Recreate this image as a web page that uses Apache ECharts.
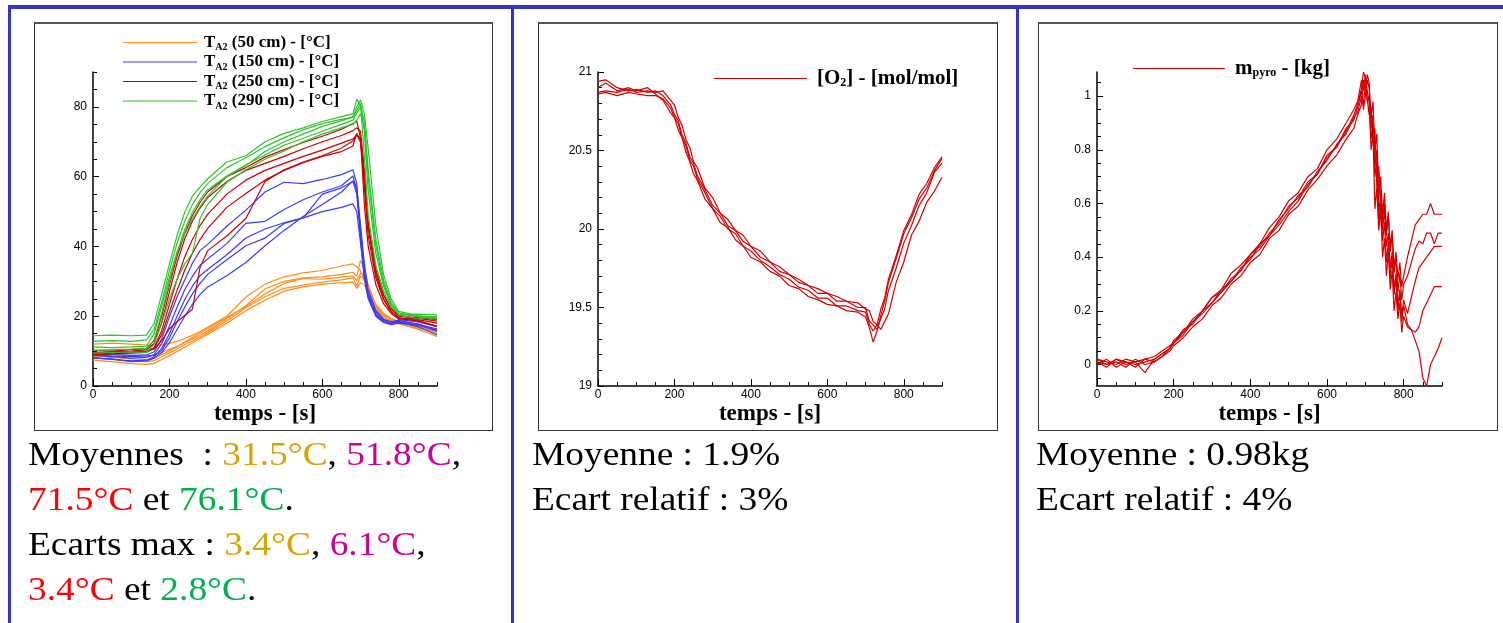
<!DOCTYPE html>
<html>
<head>
<meta charset="utf-8">
<script src="https://cdn.jsdelivr.net/npm/echarts@6/dist/echarts.min.js"></script>
<style>
  html, body { margin:0; padding:0; background:#fff; }
  body { width:1503px; height:623px; position:relative; overflow:hidden; }
  .blue { position:absolute; background:#3333cc; }
  .frame { position:absolute; background:#fff; border:1px solid #333; border-top:2px solid #555; box-sizing:border-box; }
  #chart { position:absolute; left:0; top:0; width:1503px; height:623px; z-index:2; }
  .txt { position:absolute; top:431px; font-family:"Liberation Serif","Times New Roman",serif; font-size:34px; line-height:45px;
         white-space:nowrap; transform:scaleX(1.1); transform-origin:left top; color:#000; z-index:3; }
  .gold { color:#dca400; } .mag { color:#cc0099; } .red { color:#ff0000; } .grn { color:#00b050; }
</style>
</head>
<body>
<div class="blue" style="left:8px;top:5px;width:1495px;height:4px"></div>
<div class="blue" style="left:8px;top:5px;width:3px;height:618px"></div>
<div class="blue" style="left:511px;top:5px;width:3px;height:618px"></div>
<div class="blue" style="left:1016px;top:5px;width:3px;height:618px"></div>
<div class="frame" style="left:34px;top:22px;width:459px;height:409px"></div>
<div class="frame" style="left:538px;top:22px;width:460px;height:409px"></div>
<div class="frame" style="left:1038px;top:22px;width:460px;height:409px"></div>
<div id="chart"></div>
<div class="txt" style="left:28px">Moyennes&nbsp; : <span class="gold">31.5°C</span>, <span class="mag">51.8°C</span>,<br><span class="red">71.5°C</span> et <span class="grn">76.1°C</span>.<br>Ecarts max : <span class="gold">3.4°C</span>, <span class="mag">6.1°C</span>,<br><span class="red">3.4°C</span> et <span class="grn">2.8°C</span>.</div>
<div class="txt" style="left:532px">Moyenne : 1.9%<br>Ecart relatif : 3%</div>
<div class="txt" style="left:1036px">Moyenne : 0.98kg<br>Ecart relatif : 4%</div>
<script>
// ---------- tick arrays ----------
const xMinorTicks = [0,50,100,150,200,250,300,350,400,450,500,550,600,650,700,750,800,850,900];
const xLabels = [0,200,400,600,800];
const y1Minor = [0,5,10,15,20,25,30,35,40,45,50,55,60,65,70,75,80,85,90];
const y1Labels = [0,20,40,60,80];
const y2Minor = [19,19.1,19.2,19.3,19.4,19.5,19.6,19.7,19.8,19.9,20,20.1,20.2,20.3,20.4,20.5,20.6,20.7,20.8,20.9,21];
const y2Labels = [19,19.5,20,20.5,21];
const y3Minor = [-0.05,0,0.05,0.1,0.15,0.2,0.25,0.3,0.35,0.4,0.45,0.5,0.55,0.6,0.65,0.7,0.75,0.8,0.85,0.9,0.95,1,1.05];
const y3Labels = [0,0.2,0.4,0.6,0.8,1];

// ---------- chart 1 : temperatures ----------
const t1 = [0,50,100,140,160,180,200,220,240,260,280,300,350,400,450,500,550,600,650,680,690,700,710,720,740,760,780,800,850,900];
const legendNames1 = ['TA2 (50 cm) - [°C]','TA2 (150 cm) - [°C]','TA2 (250 cm) - [°C]','TA2 (290 cm) - [°C]'];
const t50_1 = [12.0,12.3,12.0,11.7,11.6,11.8,12.2,12.8,13.6,14.5,15.6,16.8,20.0,25.5,29.2,31.3,32.4,33.1,34.4,35.0,34.2,33.0,30.6,27.2,22.6,20.4,19.2,18.4,17.0,16.2];
const t50_2 = [9.2,9.0,8.8,8.6,8.8,9.6,10.5,11.4,12.4,13.5,14.6,15.8,19.2,23.0,27.8,30.0,31.0,31.3,32.0,32.6,31.4,36.0,33.8,29.0,23.4,20.8,19.4,18.5,17.2,15.0];
const t50_3 = [8.0,7.6,7.2,7.0,7.3,8.4,9.5,10.6,11.8,12.9,14.1,15.3,18.6,22.4,25.6,28.0,28.9,29.8,30.4,31.0,28.6,31.6,30.2,27.4,22.2,20.0,18.8,17.9,16.3,14.2];
const t50_4 = [7.4,7.0,6.4,6.2,6.5,7.6,8.7,9.9,11.1,12.3,13.6,14.8,18.0,21.6,24.6,27.2,28.4,29.2,29.6,29.8,28.0,29.6,29.0,26.4,21.8,19.8,18.6,17.8,16.6,15.4];
const t50_5 = [8.6,8.2,7.8,7.6,7.9,9.0,10.1,11.2,12.6,13.9,15.2,16.4,19.6,22.8,26.4,29.4,30.8,30.6,31.2,31.6,30.2,32.4,31.4,28.2,23.0,20.6,19.2,18.2,16.8,15.6];
const t150_1 = [9.4,9.0,8.8,8.9,9.8,13.6,19.8,25.6,30.4,35.2,38.8,40.6,45.8,50.4,55.6,58.4,58.0,59.2,60.6,62.0,58.0,42.0,31.0,25.8,20.6,18.8,18.0,18.6,17.8,16.0];
const t150_2 = [8.8,8.4,8.0,8.2,9.0,12.2,17.2,22.6,27.6,31.4,34.6,36.4,40.8,46.6,47.2,50.6,53.4,55.6,57.4,60.2,56.0,45.0,33.0,26.4,21.2,19.0,18.2,19.0,18.4,17.0];
const t150_3 = [8.2,7.6,7.2,7.4,8.4,10.8,15.0,20.0,24.8,28.6,31.6,33.4,37.6,42.4,45.0,46.8,48.2,55.0,56.8,58.6,55.0,43.0,32.0,25.6,20.4,18.4,17.8,18.4,17.0,14.6];
const t150_4 = [9.0,8.6,8.4,8.6,8.8,10.2,13.8,18.4,22.6,26.4,29.4,32.0,36.2,40.2,42.4,46.6,48.2,50.0,51.2,52.2,50.0,41.0,31.0,25.0,20.0,18.2,17.6,18.0,17.4,15.8];
const t150_5 = [8.0,7.8,7.0,7.2,8.0,9.6,12.4,16.2,20.0,23.4,26.2,28.4,31.6,35.4,40.2,44.6,48.6,52.0,55.6,58.8,57.0,46.0,35.0,27.6,21.6,19.2,18.4,18.8,17.6,16.4];
const t250_1 = [10.2,10.0,10.4,10.8,13.0,20.2,29.0,37.2,43.8,48.8,52.6,55.6,60.0,62.6,65.6,67.8,69.8,71.6,73.6,75.2,76.0,71.0,52.0,40.0,29.0,23.6,20.8,19.2,19.4,18.6];
const t250_2 = [9.6,9.8,10.0,10.4,12.2,18.4,27.0,35.4,42.2,47.2,51.0,54.0,58.6,61.8,63.8,65.8,68.0,70.0,71.8,73.2,74.0,73.0,62.0,46.0,32.0,25.0,21.4,19.4,18.6,17.2];
const t250_3 = [9.2,9.4,9.6,9.8,11.0,16.0,23.4,30.6,37.0,42.0,46.0,49.2,55.0,59.0,61.8,63.8,65.8,67.6,69.6,70.8,72.0,70.4,57.0,43.0,31.0,24.8,21.2,19.6,18.8,17.0];
const t250_4 = [9.0,9.2,9.4,9.6,10.8,14.8,21.2,27.4,33.2,38.0,42.0,45.2,51.2,55.2,59.0,61.8,64.0,65.8,67.2,68.8,72.4,69.8,60.0,46.6,33.4,26.0,22.0,20.0,19.6,19.0];
const t250_5 = [9.4,9.6,9.8,10.0,10.6,13.0,16.4,18.4,20.2,22.0,34.0,38.8,43.0,48.0,58.6,62.0,64.2,66.0,68.2,70.2,72.0,71.0,59.0,45.6,33.0,26.2,22.2,20.2,19.0,18.0];
const t290_1 = [14.4,14.6,14.4,14.6,18.0,26.4,35.0,43.2,49.8,54.4,57.0,59.4,64.2,66.0,70.0,72.4,74.0,75.8,77.2,78.0,82.2,80.4,66.0,49.0,34.6,27.2,22.6,20.4,20.6,20.4];
const t290_2 = [12.8,13.0,12.8,13.2,16.2,24.2,33.0,41.0,47.2,52.0,55.4,58.0,62.6,65.4,68.6,71.2,73.4,75.2,76.4,77.0,79.0,81.0,73.0,56.0,38.0,28.6,23.2,20.6,20.0,19.6];
const t290_3 = [10.2,10.4,10.6,10.8,13.2,21.0,30.0,38.2,44.8,49.8,53.4,56.2,60.2,63.4,66.2,69.0,71.0,73.0,75.0,76.2,78.2,80.0,76.0,62.0,42.0,30.4,24.0,21.0,19.8,19.2];
const t290_4 = [9.4,9.6,9.8,9.6,12.0,18.0,25.0,30.6,35.0,38.0,48.0,52.0,58.4,62.0,65.0,67.4,70.0,72.2,74.0,75.0,76.2,78.0,74.0,60.0,40.4,29.4,23.4,20.4,19.2,20.0];
const t290_5 = [11.2,11.0,11.2,11.4,15.0,23.0,31.2,38.4,43.6,47.8,51.4,54.4,60.0,63.2,67.2,70.0,72.2,74.4,76.0,77.2,80.0,82.0,78.0,68.0,46.0,32.0,25.0,21.4,20.2,19.6];

// ---------- chart 2 : oxygen ----------
const t2 = [0,20,50,80,100,130,150,170,190,200,210,220,230,240,250,260,280,300,320,340,360,380,400,425,450,475,500,525,550,575,600,625,650,680,700,710,720,730,740,750,760,780,800,820,840,860,880,900];
const legendName2 = '[O2] - [mol/mol]';
const o2_1 = [20.90,20.93,20.88,20.90,20.88,20.90,20.86,20.82,20.74,20.71,20.63,20.58,20.49,20.43,20.35,20.31,20.19,20.13,20.04,20.01,19.93,19.89,19.82,19.79,19.73,19.70,19.64,19.62,19.57,19.55,19.52,19.51,19.48,19.47,19.44,19.37,19.28,19.35,19.45,19.54,19.66,19.81,19.97,20.07,20.19,20.26,20.37,20.45];
const o2_2 = [20.94,20.95,20.90,20.88,20.89,20.87,20.88,20.85,20.79,20.73,20.69,20.60,20.55,20.46,20.42,20.34,20.25,20.15,20.10,20.02,19.99,19.92,19.89,19.82,19.79,19.73,19.71,19.66,19.64,19.59,19.59,19.54,19.54,19.50,19.50,19.41,19.39,19.36,19.43,19.49,19.61,19.75,19.91,20.02,20.15,20.23,20.36,20.42];
const o2_3 = [20.87,20.88,20.87,20.89,20.87,20.88,20.87,20.88,20.82,20.79,20.71,20.66,20.57,20.52,20.43,20.39,20.26,20.20,20.10,20.06,19.99,19.96,19.89,19.86,19.79,19.76,19.71,19.68,19.64,19.62,19.59,19.57,19.54,19.53,19.49,19.48,19.41,19.39,19.36,19.41,19.46,19.66,19.79,19.96,20.05,20.17,20.24,20.33];
const o2_4 = [20.86,20.87,20.85,20.87,20.86,20.85,20.85,20.83,20.77,20.71,20.67,20.58,20.53,20.44,20.40,20.32,20.23,20.13,20.08,20.00,19.97,19.89,19.86,19.80,19.76,19.71,19.68,19.63,19.61,19.56,19.56,19.51,19.51,19.48,19.47,19.39,19.35,19.39,19.49,19.56,19.68,19.83,19.99,20.09,20.22,20.29,20.39,20.46];

// ---------- chart 3 : pyrolysed mass ----------
const t3 = [0,25,50,75,100,125,150,170,190,200,225,250,275,300,325,350,375,400,425,450,475,500,525,550,575,600,625,650,670,680,690,695,700,705,710,715,720,725,730,735,740,745,750,755,760,765,770,775,780,785,790,795,800,810,820,830,840,850,860,870,880,890,900];
const legendName3 = 'mpyro - [kg]';
const m_1 = [0.01,-0.01,0.02,0.00,0.01,0.02,0.03,0.05,0.07,0.08,0.13,0.15,0.20,0.23,0.28,0.31,0.36,0.39,0.45,0.48,0.54,0.58,0.63,0.66,0.72,0.76,0.82,0.86,0.92,0.94,1.00,0.97,1.04,0.99,0.93,0.96,0.84,0.88,0.66,0.74,0.62,0.54,0.60,0.48,0.55,0.44,0.50,0.36,0.42,0.32,0.38,0.29,0.33,0.40,0.46,0.52,0.54,0.56,0.56,0.60,0.56,0.56,0.56];
const m_2 = [0.02,0.00,0.01,-0.01,0.02,0.00,0.01,0.03,0.05,0.07,0.10,0.14,0.17,0.22,0.25,0.30,0.33,0.38,0.41,0.47,0.50,0.56,0.59,0.65,0.69,0.74,0.78,0.84,0.88,0.93,0.97,1.06,1.02,1.08,1.05,0.92,0.98,0.80,0.86,0.62,0.70,0.56,0.64,0.50,0.57,0.42,0.48,0.34,0.40,0.27,0.34,0.24,0.30,0.33,0.38,0.43,0.46,0.45,0.49,0.49,0.45,0.49,0.49];
const m_3 = [0.00,0.02,-0.01,0.01,0.00,0.01,0.02,0.04,0.06,0.09,0.12,0.17,0.20,0.25,0.27,0.32,0.35,0.41,0.44,0.49,0.53,0.59,0.62,0.68,0.71,0.78,0.81,0.88,0.91,0.96,1.02,0.95,1.00,1.06,1.03,0.88,0.93,0.74,0.80,0.56,0.64,0.50,0.58,0.44,0.49,0.36,0.42,0.28,0.34,0.22,0.28,0.18,0.24,0.19,0.25,0.31,0.36,0.38,0.40,0.42,0.44,0.44,0.44];
const m_4 = [0.01,0.00,0.02,0.01,-0.01,0.02,0.01,0.03,0.06,0.08,0.11,0.16,0.20,0.25,0.28,0.34,0.37,0.41,0.45,0.51,0.55,0.61,0.64,0.70,0.73,0.80,0.84,0.90,0.95,0.98,1.06,1.02,1.08,0.98,1.00,0.84,0.90,0.70,0.76,0.52,0.60,0.46,0.53,0.38,0.46,0.32,0.40,0.26,0.32,0.20,0.27,0.16,0.22,0.15,0.13,0.12,0.14,0.20,0.23,0.26,0.29,0.29,0.29];
const m_5 = [0.02,0.01,0.00,0.02,0.01,-0.03,0.02,0.04,0.06,0.08,0.12,0.16,0.19,0.23,0.27,0.31,0.35,0.40,0.43,0.48,0.52,0.57,0.61,0.67,0.71,0.77,0.81,0.87,0.93,0.97,1.03,1.09,1.07,1.02,0.98,0.80,0.86,0.58,0.66,0.50,0.58,0.40,0.47,0.33,0.42,0.28,0.35,0.20,0.27,0.17,0.23,0.12,0.18,0.14,0.13,0.09,0.05,-0.05,-0.08,0.00,0.03,0.06,0.10];

// ---------- styles ----------
const ORANGE = '#ff8c1a', BLUE = '#3a3aff', RED1 = '#cc0000', GREEN = '#2ec42e', RED2 = '#d40000';
const SERIF = '"Liberation Serif","Times New Roman",serif';
const SANS = '"Liberation Sans",Arial,sans-serif';

function pairs(t, v) { return t.map((x, i) => [x, v[i]]); }
function lineSeries(name, t, v, color, gi) {
  return { type:'line', name, xAxisIndex: gi*2, yAxisIndex: gi*2, data: pairs(t, v),
           showSymbol:false, symbol:'none', smooth:false, animation:false, silent:true,
           color, lineStyle:{ color, width:1.2 } };
}
const grids = [
  { left:93, top:72, width:344, height:314 },
  { left:598, top:72, width:344, height:314 },
  { left:1097, top:72, width:345, height:314 }
];
const yRanges = [[0,90,y1Minor,y1Labels],[19,21,y2Minor,y2Labels],[-0.08,1.09,y3Minor,y3Labels]];
const xAxes = [], yAxes = [];
grids.forEach((g, gi) => {
  xAxes.push({ type:'value', gridIndex:gi, position:'bottom', min:0, max:900,
    axisLine:{ onZero:false, lineStyle:{ color:'#000', width:1.5 } },
    axisTick:{ inside:true, length:4, customValues:xMinorTicks, lineStyle:{ color:'#000', width:1 } },
    axisLabel:{ customValues:xLabels, margin:3, fontFamily:SANS, fontSize:12, color:'#000' },
    splitLine:{ show:false },
    name:'temps - [s]', nameLocation:'middle', nameGap:17, nameMoveOverlap:false,
    nameTextStyle:{ fontFamily:SERIF, fontWeight:'bold', fontSize:23, color:'#000' } });
  xAxes.push({ type:'value', gridIndex:gi, position:'bottom', min:0, max:900,
    axisLine:{ show:false, onZero:false },
    axisTick:{ inside:true, length:7, customValues:xLabels, lineStyle:{ color:'#000', width:1 } },
    axisLabel:{ show:false }, splitLine:{ show:false } });
  const [mn, mx, minor, labels] = yRanges[gi];
  yAxes.push({ type:'value', gridIndex:gi, position:'left', min:mn, max:mx,
    axisLine:{ show:true, onZero:false, lineStyle:{ color:'#000', width:1.5 } },
    axisTick:{ show:true, inside:true, length:4, customValues:minor, lineStyle:{ color:'#000', width:1 } },
    axisLabel:{ customValues:labels, margin:6, fontFamily:SANS, fontSize:12, color:'#000' },
    splitLine:{ show:false } });
  yAxes.push({ type:'value', gridIndex:gi, position:'left', min:mn, max:mx,
    axisLine:{ show:false, onZero:false },
    axisTick:{ show:true, inside:true, length:6, customValues:labels, lineStyle:{ color:'#000', width:1 } },
    axisLabel:{ show:false }, splitLine:{ show:false } });
});

const series = [];
[t50_1,t50_2,t50_3,t50_4,t50_5].forEach(v => series.push(lineSeries(legendNames1[0], t1, v, ORANGE, 0)));
[t150_1,t150_2,t150_3,t150_4,t150_5].forEach(v => series.push(lineSeries(legendNames1[1], t1, v, BLUE, 0)));
[t250_1,t250_2,t250_3,t250_4,t250_5].forEach(v => series.push(lineSeries(legendNames1[2], t1, v, RED1, 0)));
[t290_1,t290_2,t290_3,t290_4,t290_5].forEach(v => series.push(lineSeries(legendNames1[3], t1, v, GREEN, 0)));
[o2_1,o2_2,o2_3,o2_4].forEach(v => series.push(lineSeries(legendName2, t2, v, RED2, 1)));
[m_1,m_2,m_3,m_4,m_5].forEach(v => series.push(lineSeries(legendName3, t3, v, RED2, 2)));

function richFor(size) {
  return {
    m:{ fontFamily:SERIF, fontWeight:'bold', fontSize:size, color:'#000', lineHeight:20 },
    s:{ fontFamily:SERIF, fontWeight:'bold', fontSize:Math.round(size*0.58), color:'#000', lineHeight:4, verticalAlign:'bottom' }
  };
}
const legFmt = {
  'TA2 (50 cm) - [°C]':'{m|T}{s|A2}{m| (50 cm) - [°C]}',
  'TA2 (150 cm) - [°C]':'{m|T}{s|A2}{m| (150 cm) - [°C]}',
  'TA2 (250 cm) - [°C]':'{m|T}{s|A2}{m| (250 cm) - [°C]}',
  'TA2 (290 cm) - [°C]':'{m|T}{s|A2}{m| (290 cm) - [°C]}',
  '[O2] - [mol/mol]':'{m|[O}{s|2}{m|] - [mol/mol]}',
  'mpyro - [kg]':'{m|m}{s|pyro}{m| - [kg]}'
};
const legends = [
  { data:legendNames1, left:118, top:29, orient:'vertical', itemGap:1, itemWidth:74, itemHeight:1.2, icon:'rect',
    selectedMode:false, formatter:n => legFmt[n], textStyle:{ padding:[0,0,0,2], rich:richFor(17) } },
  { data:[legendName2], left:709, top:63, itemWidth:93, itemHeight:1.2, icon:'rect',
    selectedMode:false, formatter:n => legFmt[n], textStyle:{ padding:[0,0,0,5], rich:richFor(21) } },
  { data:[legendName3], left:1128, top:53, itemWidth:92, itemHeight:1.2, icon:'rect',
    selectedMode:false, formatter:n => legFmt[n], textStyle:{ padding:[0,0,0,5], rich:richFor(21) } }
];

const chart = echarts.init(document.getElementById('chart'), null, { renderer:'canvas' });
chart.setOption({ animation:false, grid:grids, xAxis:xAxes, yAxis:yAxes, legend:legends, series });
</script>
</body>
</html>
